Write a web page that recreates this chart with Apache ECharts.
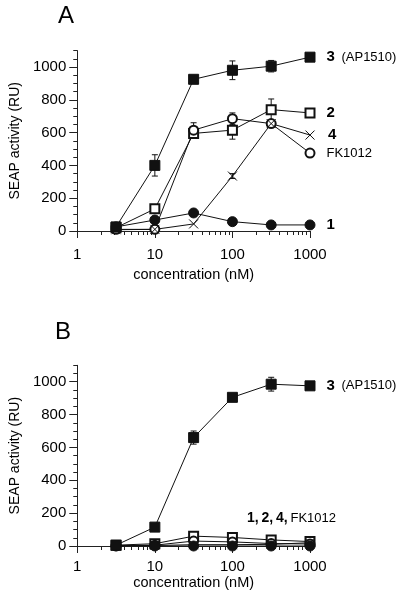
<!DOCTYPE html>
<html><head><meta charset="utf-8">
<script src="https://cdn.jsdelivr.net/npm/echarts@6/dist/echarts.min.js"></script>
<style>html,body{margin:0;padding:0;background:#fff}#c{width:400px;height:604px}</style>
</head><body><div id="c"></div>
<script>
// concentrations (nM)
const conc = [3.16, 10, 31.6, 100, 316, 1000];
// Panel A
const a3 = [25, 400, 925, 980, 1005, 1060];
const a3Err = [0, 65, 0, 57, 35, 0];
const a2 = [20, 135, 595, 615, 740, 720];
const a2Err = [0, 0, 0, 55, 65, 0];
const aFK = [10, 10, 615, 685, 655, 475];
const aFKErr = [0, 0, 45, 35, 0, 0];
const a4 = [8, 10, 43, 335, 655, 585];
const a4Err = [0, 0, 0, 15, 20, 0];
const a1 = [25, 67, 110, 57, 37, 37];
// Panel B
const b3 = [5, 115, 660, 905, 985, 975];
const b3Err = [0, 0, 40, 0, 42, 0];
const b2 = [5, 14, 60, 52, 37, 27];
const bFK = [2, 5, 30, 25, 15, 12];
const b4 = [2, 3, 8, 8, 10, 20];
const b1 = [0, 0, 0, 0, 0, 0];
// axis ticks
const xMinorTicks = [2,3,4,5,6,7,8,9,20,30,40,50,60,70,80,90,200,300,400,500,600,700,800,900];
const yLabelTicks = [0, 200, 400, 600, 800, 1000];

const FONT = "'Liberation Sans', Arial, Helvetica, sans-serif";
const INK = '#111';
const AX = '#222';
const chart = echarts.init(document.getElementById('c'), null, {renderer: 'canvas'});

const grids = [
  {left: 77, top: 50.6, width: 233, height: 180.4},
  {left: 77, top: 365.3, width: 233, height: 180.7}
];

function xAxisFor(gi, labelMargin, nameGap) {
  return {
    type: 'log', logBase: 10, gridIndex: gi, min: 1, max: 1000,
    axisLine: {lineStyle: {color: AX, width: 1}},
    axisTick: {show: true, length: 7, inside: false, lineStyle: {color: AX, width: 1}},
    splitLine: {show: false}, minorTick: {show: false},
    axisLabel: {color: '#000', fontFamily: FONT, fontSize: 15, margin: labelMargin,
      formatter: v => String(v)},
    name: 'concentration (nM)', nameLocation: 'middle', nameGap: nameGap,
    nameTextStyle: {color: '#000', fontFamily: FONT, fontSize: 14.5}
  };
}
function yAxisFor(gi) {
  return {
    type: 'value', gridIndex: gi, min: 0, max: 1100, interval: 50,
    axisLine: {show: true, lineStyle: {color: AX, width: 1}},
    axisTick: {show: true, length: 4, lineStyle: {color: AX, width: 1}},
    splitLine: {show: false},
    axisLabel: {color: '#000', fontFamily: FONT, fontSize: 15, margin: 11,
      formatter: v => (yLabelTicks.indexOf(v) >= 0 ? String(v) : '')},
    name: 'SEAP activity (RU)', nameLocation: 'middle', nameGap: 53,
    nameTextStyle: {color: '#000', fontFamily: FONT, fontSize: 14}
  };
}
function yMajorFor(gi) {
  return {
    type: 'value', gridIndex: gi, min: 0, max: 1100, position: 'left',
    axisLine: {show: false},
    axisTick: {show: true, length: 8, customValues: yLabelTicks, lineStyle: {color: AX, width: 1}},
    axisLabel: {show: false}, splitLine: {show: false}
  };
}

const X_PATH = 'path://M0,0L10,10M10,0L0,10';

function lineSeries(gi, vals, symbol, size, label) {
  const data = conc.map((x, i) => {
    const item = {value: [x, vals[i]]};
    if (label && i === conc.length - 1) {
      item.label = {show: true, position: 'right', distance: 11,
        formatter: label, color: '#000', fontFamily: FONT, fontSize: 13,
        rich: {b: {fontWeight: 'bold', fontSize: 15, fontFamily: FONT, color: '#000', padding: [0, 3, 0, 0]}}};
    }
    return item;
  });
  return {
    type: 'line', xAxisIndex: gi, yAxisIndex: gi * 2, data: data,
    symbol: symbol, symbolSize: size, showAllSymbol: true,
    lineStyle: {color: INK, width: 1},
    itemStyle: {color: INK, borderColor: INK, borderWidth: 1},
    emphasis: {disabled: true}, silent: true, z: 3
  };
}
function xSeries(gi, vals, label) {
  const s = lineSeries(gi, vals, X_PATH, 9, label);
  s.itemStyle = {color: 'none', borderColor: INK, borderWidth: 1};
  return s;
}
function errSeries(gi, vals, errs) {
  const data = [];
  conc.forEach((x, i) => { if (errs[i] > 0) data.push([x, vals[i], errs[i]]); });
  return {
    type: 'custom', xAxisIndex: gi, yAxisIndex: gi * 2, data: data, silent: true, z: 2,
    renderItem: function (params, api) {
      const x = api.value(0), y = api.value(1), e = api.value(2);
      const top = api.coord([x, y + e]);
      const bot = api.coord([x, y - e]);
      const st = {stroke: INK, lineWidth: 1};
      const c = 3;
      return {type: 'group', children: [
        {type: 'line', shape: {x1: top[0], y1: top[1], x2: bot[0], y2: bot[1]}, style: st},
        {type: 'line', shape: {x1: top[0] - c, y1: top[1], x2: top[0] + c, y2: top[1]}, style: st},
        {type: 'line', shape: {x1: bot[0] - c, y1: bot[1], x2: bot[0] + c, y2: bot[1]}, style: st}
      ]};
    }
  };
}
function minorTickSeries(gi) {
  return {
    type: 'custom', xAxisIndex: gi, yAxisIndex: gi * 2, silent: true, clip: false,
    data: xMinorTicks.map(v => [v, 0]), z: 1,
    renderItem: function (params, api) {
      const p = api.coord([api.value(0), 0]);
      const xx = Math.round(p[0]) + 0.5;
      return {type: 'line', shape: {x1: xx, y1: p[1], x2: xx, y2: p[1] + 4},
        style: {stroke: AX, lineWidth: 1}};
    }
  };
}

const option = {
  animation: false,
  backgroundColor: '#fff',
  grid: grids,
  xAxis: [xAxisFor(0, 16, 36), xAxisFor(1, 13, 29)],
  yAxis: [yAxisFor(0), yMajorFor(0), yAxisFor(1), yMajorFor(1)],
  graphic: [
    {type: 'text', left: 58, top: 4, style: {text: 'A', font: '24px ' + FONT, fill: '#000'}},
    {type: 'text', left: 55, top: 320, style: {text: 'B', font: '24px ' + FONT, fill: '#000'}},
    {type: 'text', left: 247, top: 511, style: {
      text: '{b|1,\u20092,\u20094,\u2009}FK1012', font: '13px ' + FONT, fill: '#000',
      rich: {b: {fontWeight: 'bold', fontSize: 14, fontFamily: FONT, fill: '#000'}}}}
  ],
  series: [
    minorTickSeries(0), minorTickSeries(1),
    // Panel A
    errSeries(0, a3, a3Err), errSeries(0, a2, a2Err), errSeries(0, aFK, aFKErr), errSeries(0, a4, a4Err),
    lineSeries(0, a2, 'emptyRect', 9, '{b|2}'),
    lineSeries(0, aFK, 'emptyCircle', 9, 'FK1012'),
    xSeries(0, a4, '{b|4}'),
    lineSeries(0, a1, 'circle', 10, '{b|1}'),
    lineSeries(0, a3, 'rect', 10, '{b|3} (AP1510)'),
    // Panel B
    errSeries(1, b3, b3Err),
    lineSeries(1, b2, 'emptyRect', 9, null),
    lineSeries(1, bFK, 'emptyCircle', 9, null),
    xSeries(1, b4, null),
    lineSeries(1, b1, 'circle', 10, null),
    lineSeries(1, b3, 'rect', 10, '{b|3} (AP1510)')
  ]
};
chart.setOption(option);
</script>
</body></html>
